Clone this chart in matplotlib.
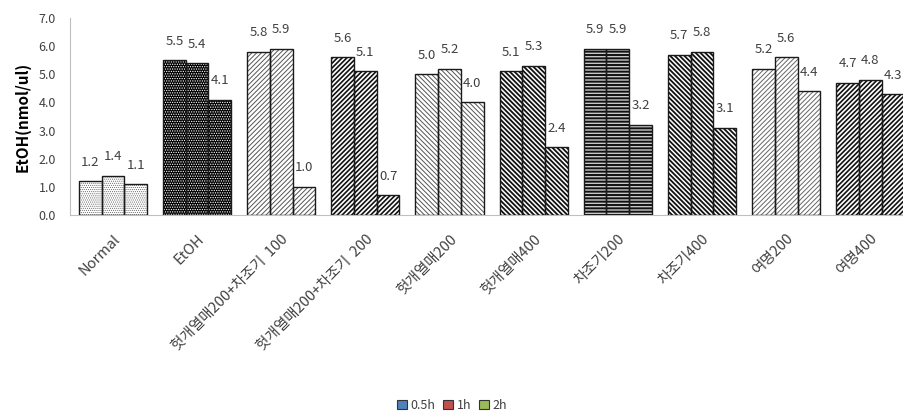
import matplotlib.pyplot as plt
from matplotlib.patches import Patch
import numpy as np

plt.rcParams['font.family'] = ['Noto Sans CJK KR', 'DejaVu Sans']

# data
categories = ['Normal', 'EtOH', '헛개열매200+차조기  100', '헛개열매200+차조기  200',
              '헛개열매200', '헛개열매400', '차조기200', '차조기400', '여명200', '여명400']
series = ['0.5h', '1h', '2h']
v_05h = [1.2, 5.5, 5.8, 5.6, 5.0, 5.1, 5.9, 5.7, 5.2, 4.7]
v_1h = [1.4, 5.4, 5.9, 5.1, 5.2, 5.3, 5.9, 5.8, 5.6, 4.8]
v_2h = [1.1, 4.1, 1.0, 0.7, 4.0, 2.4, 3.2, 3.1, 4.4, 4.3]
legend_colors = ['#4F81BD', '#C0504D', '#9BBB59']

# fill per group: face colour, hatch, hatch colour, hatch width
patterns = [
    ('white', '........', '#666666', 0.5),
    ('black', '.......', 'white', 0.6),
    ('white', '///////', '#555555', 0.7),
    ('white', '///////', '#111111', 1.2),
    ('white', '\\\\\\\\\\\\\\', '#555555', 0.7),
    ('white', '\\\\\\\\\\\\\\', '#111111', 1.3),
    ('#c8c8c8', '-----', '#111111', 1.4),
    ('white', '\\\\\\\\\\\\\\', '#111111', 1.3),
    ('white', '///////', '#666666', 0.7),
    ('white', '///////', '#111111', 1.2),
]

fig = plt.figure(figsize=(9.04, 4.18), dpi=100)
ax = fig.add_axes([0.0774, 0.4856, 0.9226, 0.4713])

x = np.arange(len(categories))
w = 0.27
values = [v_05h, v_1h, v_2h]

for s, vals in enumerate(values):
    xs = x + (s - 1) * w
    for i in range(len(categories)):
        face, hatch, hcol, hlw = patterns[i]
        with plt.rc_context({'hatch.linewidth': hlw, 'hatch.color': hcol}):
            b = ax.bar(xs[i], vals[i], w, color=face, edgecolor=hcol, hatch=hatch,
                       linewidth=0, zorder=2)
            if hasattr(b[0], 'set_hatch_linewidth'):
                b[0].set_hatch_linewidth(hlw)
        ax.bar(xs[i], vals[i], w, fill=False, edgecolor='#1a1a1a', linewidth=1.0, zorder=3)
        ax.annotate(f'{vals[i]:.1f}', (xs[i], vals[i]), xytext=(0, 9),
                    textcoords='offset points', ha='center', va='bottom',
                    fontsize=9.5, color='#404040')

ax.set_xlim(-0.51, 9.40)
ax.set_ylim(0, 7)
ax.set_yticks(np.arange(0, 7.1, 1.0))
ax.set_yticklabels([f'{t:.1f}' for t in np.arange(0, 7.1, 1.0)])
ax.set_xticks(x)
ax.set_xticklabels(categories, rotation=45, ha='right', va='top',
                   rotation_mode='anchor', fontsize=10.5, color='#404040')
ax.tick_params(axis='y', length=0, pad=10, labelsize=9, labelcolor='#404040')
ax.tick_params(axis='x', length=0, pad=12)
ax.set_ylabel('EtOH(nmol/ul)', fontsize=11, fontweight='bold', labelpad=6)

for side in ['top', 'right']:
    ax.spines[side].set_visible(False)
for side in ['left', 'bottom']:
    ax.spines[side].set_color('#bfbfbf')

handles = [Patch(facecolor=c, edgecolor='#333333', linewidth=0.8) for c in legend_colors]
fig.legend(handles, series, loc='lower center', bbox_to_anchor=(0.5, -0.012), ncol=3,
           frameon=False, fontsize=9, handlelength=0.8, handleheight=0.8,
           handletextpad=0.3, columnspacing=0.6, labelcolor='#404040')

fig.savefig('out.png', dpi=100)
